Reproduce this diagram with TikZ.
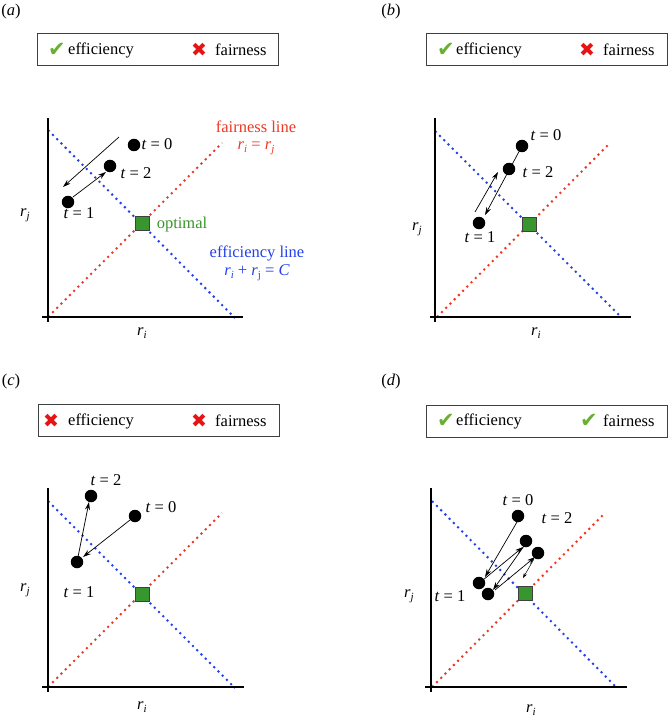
\documentclass[tikz,border=0pt]{standalone}
\usepackage{fontspec}
\setmainfont{Liberation Serif}
\newfontfamily\symfont{DejaVu Sans}
\usetikzlibrary{arrows.meta}
\definecolor{fred}{RGB}{240,55,35}
\definecolor{eblue}{RGB}{35,65,235}
\definecolor{optgreen}{RGB}{55,150,40}
\definecolor{sqgreen}{RGB}{55,150,45}
\definecolor{ckgreen}{RGB}{105,175,50}
\definecolor{xred}{RGB}{230,20,20}
\newcommand{\vr}[1]{\textit{r}\raisebox{-0.45ex}{\fontsize{11}{11}\selectfont\textit{#1}}}
\newcommand{\vrup}[1]{\textit{r}\raisebox{-0.45ex}{\fontsize{11}{11}\selectfont #1}}
\newcommand{\tlab}[1]{\textit{t} = #1}
\newcommand{\ckmark}{{\symfont\fontsize{21}{21}\selectfont\textcolor{ckgreen}{✔}}}
\newcommand{\xmark}{{\symfont\fontsize{19}{19}\selectfont\textcolor{xred}{✖}}}
\begin{document}
\begin{tikzpicture}[x=1pt,y=-1pt,
  txt/.style={font=\fontsize{16.5}{19}\selectfont, inner sep=0pt},
  sym/.style={inner sep=0pt},
  dot/.style={circle, fill=black, minimum size=12.5pt, inner sep=0pt},
  opt/.style={rectangle, draw=black!75, fill=sqgreen, minimum size=14pt, inner sep=0pt, line width=0.8pt},
  axisline/.style={line width=1.8pt, black},
  fline/.style={draw=fred, line width=2pt, dash pattern=on 2pt off 4pt},
  eline/.style={draw=eblue, line width=2pt, dash pattern=on 2pt off 4pt},
  arr/.style={-{Stealth[length=8pt,width=5pt]}, line width=0.7pt},
  thinarr/.style={-{Stealth[length=5pt,width=3.5pt]}, line width=0.5pt},
  legendbox/.style={draw=black!75, line width=1pt, minimum width=241pt, minimum height=32pt, inner sep=0pt}
]
\useasboundingbox (0,0) rectangle (669,722);

% ================= panel (a) =================
\node[txt] (a-lab) at (11,12) {(\textit{a})};
\node[legendbox] (a-leg) at (158,50) {};
\node[sym] (a-s1) at (57,50) {\ckmark};
\node[txt, anchor=west] (a-l1) at (68,50) {efficiency};
\node[sym] (a-s2) at (199,50) {\xmark};
\node[txt, anchor=west] (a-l2) at (215,50) {fairness};
\coordinate (a-vt) at (48,118); \coordinate (a-vb) at (48,322);
\coordinate (a-hl) at (42,317); \coordinate (a-hr) at (243,317);
\coordinate (a-e1) at (48,130); \coordinate (a-e2) at (235,318);
\coordinate (a-f1) at (48,317); \coordinate (a-f2) at (222,143);
\draw[fline] (a-f1) -- (a-f2);
\draw[eline] (a-e1) -- (a-e2);
\draw[axisline] (a-vt) -- (a-vb);
\draw[axisline] (a-hl) -- (a-hr);
\node[opt] (a-opt) at (142,223) {};
\node[txt, text=optgreen] (a-optl) at (182,225) {optimal};
\node[txt, text=fred] (a-fl) at (256,127) {fairness line};
\node[txt, text=fred] (a-fe) at (256,148) {\vr{i} = \vr{j}};
\node[txt, text=eblue] (a-el) at (257,253) {efficiency line};
\node[txt, text=eblue] (a-ee) at (257,273) {\vr{i} + \vrup{j} = \textit{C}};
\node[txt] (a-rj) at (25,215) {\vr{j}};
\node[txt] (a-ri) at (142,333) {\vr{i}};
\coordinate (a-p1) at (119,137); \coordinate (a-q1) at (63,187);
\coordinate (a-p2) at (73,197); \coordinate (a-q2) at (106,172);
\draw[arr] (a-p1) -- (a-q1);
\draw[arr] (a-p2) -- (a-q2);
\node[dot] (a-d0) at (134,145) {};
\node[dot] (a-d2) at (110,166) {};
\node[dot] (a-d1) at (68,202) {};
\node[txt] (a-t0) at (157,144) {\tlab{0}};
\node[txt] (a-t2) at (136,173) {\tlab{2}};
\node[txt] (a-t1) at (79,213) {\tlab{1}};

% ================= panel (b) =================
\node[txt] (b-lab) at (391,12) {(\textit{b})};
\node[legendbox] (b-leg) at (547,50) {};
\node[sym] (b-s1) at (446,50) {\ckmark};
\node[txt, anchor=west] (b-l1) at (456,50) {efficiency};
\node[sym] (b-s2) at (587,50) {\xmark};
\node[txt, anchor=west] (b-l2) at (603,50) {fairness};
\coordinate (b-vt) at (435,118); \coordinate (b-vb) at (435,322);
\coordinate (b-hl) at (430,317); \coordinate (b-hr) at (631,317);
\coordinate (b-e1) at (435,131); \coordinate (b-e2) at (621,317);
\coordinate (b-f1) at (437,317); \coordinate (b-f2) at (609,144);
\draw[fline] (b-f1) -- (b-f2);
\draw[eline] (b-e1) -- (b-e2);
\draw[axisline] (b-vt) -- (b-vb);
\draw[axisline] (b-hl) -- (b-hr);
\node[opt] (b-opt) at (529,224) {};
\node[txt] (b-rj) at (417,229) {\vr{j}};
\node[txt] (b-ri) at (536,333) {\vr{i}};
\node[dot] (b-d0) at (522,146) {};
\coordinate (b-q1) at (485,215);
\coordinate (b-p2) at (475,212); \coordinate (b-q2) at (498,172);
\draw[arr] (b-d0.center) -- (b-q1);
\draw[arr] (b-p2) -- (b-q2);
\node[dot] (b-d2) at (509,169) {};
\node[dot] (b-d1) at (479,223) {};
\node[txt] (b-t0) at (546,135) {\tlab{0}};
\node[txt] (b-t2) at (538,172) {\tlab{2}};
\node[txt] (b-t1) at (480,237) {\tlab{1}};

% ================= panel (c) =================
\node[txt] (c-lab) at (11,382) {(\textit{c})};
\node[legendbox] (c-leg) at (159,420.5) {};
\node[sym] (c-s1) at (51,421) {\xmark};
\node[txt, anchor=west] (c-l1) at (68,421) {efficiency};
\node[sym] (c-s2) at (199,421) {\xmark};
\node[txt, anchor=west] (c-l2) at (215,421) {fairness};
\coordinate (c-vt) at (48,488); \coordinate (c-vb) at (48,692);
\coordinate (c-hl) at (42,687); \coordinate (c-hr) at (244,687);
\coordinate (c-e1) at (48,501); \coordinate (c-e2) at (235,688);
\coordinate (c-f1) at (48,687); \coordinate (c-f2) at (222,513);
\draw[fline] (c-f1) -- (c-f2);
\draw[eline] (c-e1) -- (c-e2);
\draw[axisline] (c-vt) -- (c-vb);
\draw[axisline] (c-hl) -- (c-hr);
\node[opt] (c-opt) at (142,594) {};
\node[txt] (c-rj) at (25,590) {\vr{j}};
\node[txt] (c-ri) at (142,707) {\vr{i}};
\coordinate (c-p1) at (130,520); \coordinate (c-q1) at (83,557);
\coordinate (c-p2) at (78,557); \coordinate (c-q2) at (89,502);
\draw[arr] (c-p1) -- (c-q1);
\draw[arr] (c-p2) -- (c-q2);
\node[dot] (c-d2) at (91,496) {};
\node[dot] (c-d0) at (135,516) {};
\node[dot] (c-d1) at (77,562) {};
\node[txt] (c-t2) at (106,480) {\tlab{2}};
\node[txt] (c-t0) at (161,507) {\tlab{0}};
\node[txt] (c-t1) at (79,592) {\tlab{1}};

% ================= panel (d) =================
\node[txt] (d-lab) at (391,382) {(\textit{d})};
\node[legendbox] (d-leg) at (547,421) {};
\node[sym] (d-s1) at (446,421) {\ckmark};
\node[txt, anchor=west] (d-l1) at (456,421) {efficiency};
\node[sym] (d-s2) at (589,421) {\ckmark};
\node[txt, anchor=west] (d-l2) at (603,421) {fairness};
\coordinate (d-vt) at (431,488); \coordinate (d-vb) at (431,692);
\coordinate (d-hl) at (425,687); \coordinate (d-hr) at (627,687);
\coordinate (d-e1) at (432,501); \coordinate (d-e2) at (617,688);
\coordinate (d-f1) at (432,687); \coordinate (d-f2) at (604,514);
\draw[fline] (d-f1) -- (d-f2);
\draw[eline] (d-e1) -- (d-e2);
\draw[axisline] (d-vt) -- (d-vb);
\draw[axisline] (d-hl) -- (d-hr);
\node[opt] (d-opt) at (525,593) {};
\node[txt] (d-rj) at (409,596) {\vr{j}};
\node[txt] (d-ri) at (531,710) {\vr{i}};
\coordinate (d-p1) at (517,522); \coordinate (d-q1) at (485,577);
\coordinate (d-p2) at (483,580); \coordinate (d-q2) at (523,547);
\coordinate (d-p3) at (524,546); \coordinate (d-q3) at (493,590);
\coordinate (d-p4) at (495,590); \coordinate (d-q4) at (535,557);
\coordinate (d-p5) at (534,559); \coordinate (d-q5) at (523,578);
\draw[arr] (d-p1) -- (d-q1);
\draw[arr] (d-p2) -- (d-q2);
\draw[arr] (d-p3) -- (d-q3);
\draw[arr] (d-p4) -- (d-q4);
\draw[thinarr] (d-p5) -- (d-q5);
\node[dot] (d-d0) at (518,516) {};
\node[dot] (d-d2a) at (526,541) {};
\node[dot] (d-d2b) at (538,553) {};
\node[dot] (d-d1a) at (479,583) {};
\node[dot] (d-d1b) at (488,594) {};
\node[txt] (d-t0) at (518,500) {\tlab{0}};
\node[txt] (d-t2) at (557,518) {\tlab{2}};
\node[txt] (d-t1) at (450,596) {\tlab{1}};
\end{tikzpicture}
\end{document}
